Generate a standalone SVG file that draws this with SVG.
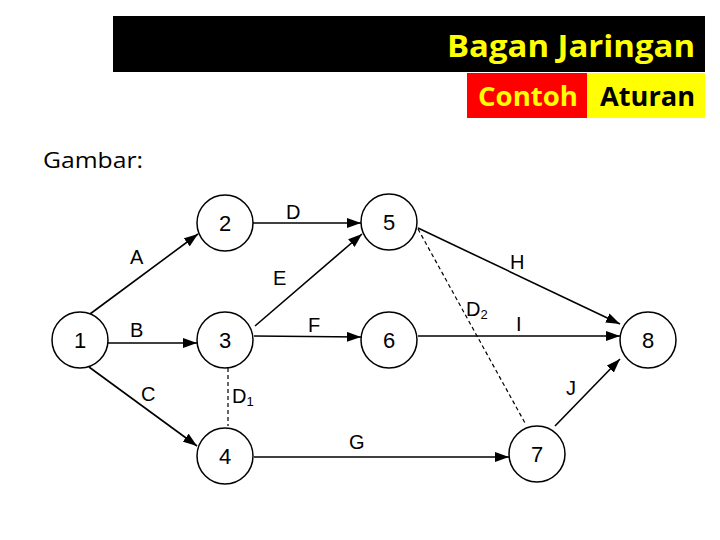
<svg xmlns="http://www.w3.org/2000/svg" width="720" height="540" viewBox="0 0 720 540">
<style>
.node circle{fill:#fff;stroke:#000;stroke-width:1.5}
.node text,.lbl{font-family:"Liberation Sans",Arial,sans-serif;font-size:20px;fill:#000}
.node text{text-anchor:middle;font-size:22px}
.edge{stroke:#000;stroke-width:1.6;fill:none}
.arr{marker-end:url(#ah)}
.dash{stroke-dasharray:4 3;stroke-width:1.2}
.hdr{font-family:"Open Sans","Noto Sans",sans-serif;font-weight:bold}
</style>
<defs>
<marker id="ah" markerWidth="14" markerHeight="10" refX="14" refY="5" orient="auto" markerUnits="userSpaceOnUse">
<path d="M0,0 L14,5 L0,10 Z" fill="#000"/>
</marker>
</defs>
<rect width="720" height="540" fill="#fff"/>
<g id="header">
<rect x="113" y="16" width="592" height="56" fill="#000"/>
<text class="hdr" x="695" y="57" text-anchor="end" font-size="30" fill="#ffff00" textLength="248" lengthAdjust="spacingAndGlyphs">Bagan Jaringan</text>
<rect x="467" y="73" width="120" height="45" fill="#ff0000"/>
<rect x="587" y="73" width="118" height="45" fill="#ffff00"/>
<text class="hdr" x="478" y="106" font-size="26" fill="#ffff00" textLength="100" lengthAdjust="spacingAndGlyphs">Contoh</text>
<text class="hdr" x="600" y="106" font-size="26" fill="#000" textLength="95" lengthAdjust="spacingAndGlyphs">Aturan</text>
</g>
<text x="43" y="168" font-family="Open Sans,Noto Sans,sans-serif" font-size="21" fill="#000" textLength="100" lengthAdjust="spacingAndGlyphs">Gambar:</text>
<g id="connectors">
<line class="edge arr" x1="90" y1="314" x2="198" y2="234"/>
<line class="edge arr" x1="253" y1="223" x2="361" y2="223"/>
<line class="edge arr" x1="108" y1="343" x2="197" y2="343"/>
<line class="edge arr" x1="255" y1="326" x2="362" y2="234"/>
<line class="edge arr" x1="254" y1="336" x2="361" y2="337"/>
<line class="edge arr" x1="89" y1="367" x2="197" y2="446"/>
<line class="edge dash" x1="228" y1="368" x2="228" y2="426"/>
<line class="edge arr" x1="254" y1="457" x2="509" y2="457"/>
<line class="edge arr" x1="418" y1="228" x2="620" y2="324"/>
<line class="edge arr" x1="418" y1="336" x2="620" y2="336"/>
<line class="edge dash" x1="418" y1="229" x2="525" y2="423"/>
<line class="edge arr" x1="555" y1="426" x2="620" y2="359"/>
<text class="lbl" x="130" y="264">A</text>
<text class="lbl" x="286" y="219">D</text>
<text class="lbl" x="273" y="285">E</text>
<text class="lbl" x="130" y="337">B</text>
<text class="lbl" x="308" y="332">F</text>
<text class="lbl" x="141" y="401">C</text>
<text class="lbl" x="232" y="403">D<tspan font-size="13" dy="3">1</tspan></text>
<text class="lbl" x="349" y="449">G</text>
<text class="lbl" x="510" y="269">H</text>
<text class="lbl" x="466" y="316">D<tspan font-size="13" dy="3">2</tspan></text>
<text class="lbl" x="516" y="331">I</text>
<text class="lbl" x="566" y="395">J</text>
</g>
<g id="n1" class="node"><circle cx="80" cy="340" r="28"/><text x="80" y="348">1</text></g>
<g id="n2" class="node"><circle cx="225" cy="223" r="28"/><text x="225" y="231">2</text></g>
<g id="n3" class="node"><circle cx="225" cy="340" r="28"/><text x="225" y="348">3</text></g>
<g id="n4" class="node"><circle cx="225" cy="456" r="28"/><text x="225" y="464">4</text></g>
<g id="n5" class="node"><circle cx="389" cy="222" r="28"/><text x="389" y="230">5</text></g>
<g id="n6" class="node"><circle cx="389" cy="340" r="28"/><text x="389" y="348">6</text></g>
<g id="n7" class="node"><circle cx="537" cy="454" r="28"/><text x="537" y="462">7</text></g>
<g id="n8" class="node"><circle cx="648" cy="340" r="28"/><text x="648" y="348">8</text></g>
</svg>
